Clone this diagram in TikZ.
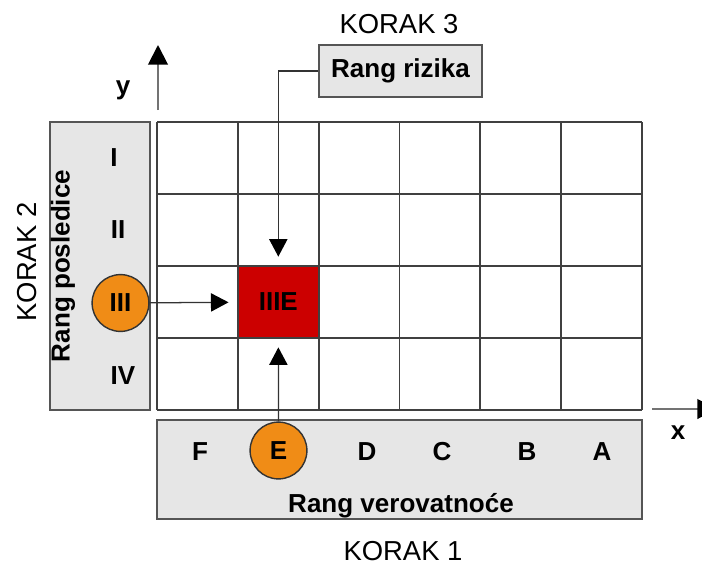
\documentclass[tikz,border=0pt]{standalone}
\usepackage{fontspec}
\setmainfont{Liberation Sans}
\usepackage{tikz}
\usetikzlibrary{arrows.meta}
\usetikzlibrary{calc}

\definecolor{panelgray}{RGB}{230,230,230}
\definecolor{framegray}{RGB}{85,85,85}
\definecolor{rankorange}{RGB}{240,140,22}
\definecolor{cellred}{RGB}{204,0,0}

\begin{document}
\begin{tikzpicture}[
  x=0.025cm, y=-0.025cm,
  every node/.style={align=center, font=\fontsize{18.5}{22}\selectfont\bfseries},
  panel/.style={draw=framegray, line width=1.4pt, fill=panelgray, inner sep=0pt},
  rank/.style={circle, draw=black!80, line width=1pt, fill=rankorange, minimum size=1.42cm, inner sep=0pt},
  korak/.style={font=\fontsize{19.5}{22}\selectfont},
  gridline/.style={draw=black!75, line width=1.3pt},
  link/.style={draw=black!80, line width=0.9pt, -{Triangle[length=12.5pt,width=13pt,color=black]}, shorten >=6pt},
  axis/.style={draw=black!55, line width=1.4pt, -{Triangle[length=14pt,width=14pt,color=black]}}
]
\useasboundingbox (0,0) rectangle (702,565);

% panels
\node[panel, minimum width=2.5cm, minimum height=7.2cm] (posledicepanel) at (100,266) {};
\node[panel, minimum width=12.125cm, minimum height=2.475cm] (verovatnocepanel) at (399.5,469.5) {};
\node[panel, minimum width=4.075cm, minimum height=1.3cm] (rizika) at (400.5,71) {Rang rizika};

% matrix
\foreach \i in {0,...,6}
  \draw[gridline] ({157+\i*80.83},122) -- ({157+\i*80.83},410);
\foreach \j in {0,...,4}
  \draw[gridline] (157,{122+\j*72}) -- (642,{122+\j*72});
\node[gridline, fill=cellred, minimum width=2.02cm, minimum height=1.8cm] (cell) at (278.3,302) {IIIE};

% consequence ranks
\node (r1) at (114,158) {I};
\node (r2) at (118,230) {II};
\node[rank] (iii) at (120.5,303) {III};
\node (r4) at (123,376) {IV};
\node[rotate=90] (posledice) at (63,266) {Rang posledice};

% probability ranks
\node (f) at (200,452) {F};
\node[rank] (e) at (278.5,450.5) {E};
\node (d) at (367,452) {D};
\node (c) at (442,452) {C};
\node (b) at (527,452) {B};
\node (a) at (602,452) {A};
\node[anchor=base] (verovatnoce) at (401,512) {Rang verovatno\'ce};

% steps
\node[korak] (korak3) at (399,24) {KORAK 3};
\node[korak, rotate=90] (korak2) at (27,262) {KORAK 2};
\node[korak] (korak1) at (403,551) {KORAK 1};

% axes
\coordinate (yfoot) at (158,110);
\coordinate (yhead) at (158,45);
\coordinate (xfoot) at (652,409);
\coordinate (xhead) at (717,409);
\draw[axis] (yfoot) -- (yhead);
\draw[axis] (xfoot) -- (xhead);
\node (ylabel) at (123,90) {y};
\node (xlabel) at (678,433) {x};

% connectors
\draw[link] (iii) -- (cell);
\draw[link] (e) -- (cell);
\draw[link] (rizika.west) -| (cell);
\end{tikzpicture}
\end{document}
